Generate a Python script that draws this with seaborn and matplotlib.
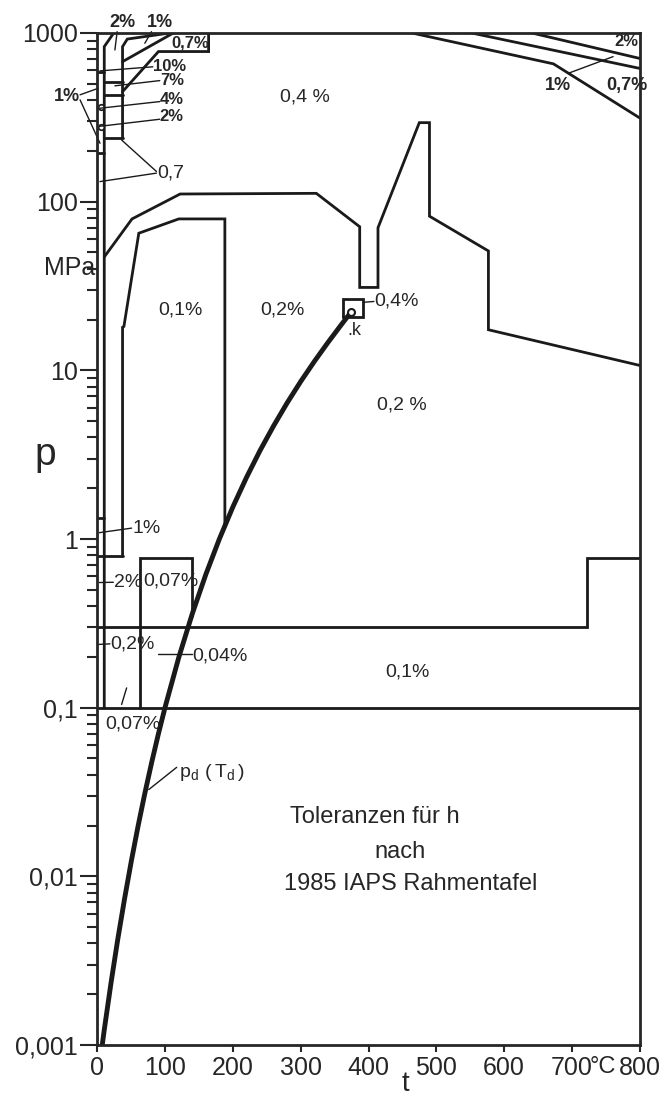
import matplotlib
matplotlib.use("Agg")
import matplotlib.pyplot as plt
import pandas as pd
import seaborn as sns
from matplotlib.ticker import LogLocator, NullFormatter

# saturation curve p_d(T_d) (steam-table values)
sat_t = [7, 10, 20, 30, 40, 50, 60, 70, 80, 90, 100, 120, 140, 160, 180,
         200, 220, 240, 260, 280, 300, 320, 340, 360, 373.9]
sat_p = [0.001, 0.00123, 0.00234, 0.00425, 0.00738, 0.01235, 0.01995, 0.0312,
         0.0474, 0.0702, 0.1014, 0.1987, 0.3615, 0.618, 1.003, 1.555, 2.32,
         3.35, 4.69, 6.42, 8.59, 11.28, 14.6, 18.67, 22.06]

# region boundaries (t in degC, p in MPa)
outer_t = [10, 51, 122, 323, 387, 387, 414, 414, 475, 490, 490, 577, 577, 800]
outer_p = [47, 79, 111, 112, 71, 31, 31, 70, 294, 294, 82, 51, 17.4, 10.7]
inner_t = [37, 37, 39, 61, 120, 188, 188]
inner_p = [0.79, 18, 18.2, 65, 79, 79, 1.19]
box007_t = [63, 63, 139, 139]
box007_p = [0.1, 0.77, 0.77, 0.35]
line03_t = [0, 722, 722, 800]
line03_p = [0.3, 0.3, 0.77, 0.77]
line01_t = [0, 800]
line01_p = [0.1, 0.1]
lineA_t = [10, 10, 24]
lineA_p = [0.1, 830, 1000]
lineB_t = [37, 37, 44, 107]
lineB_p = [238, 830, 920, 1000]
diag_t = [37, 112]
diag_p = [676, 1000]
box07_t = [37, 90, 164, 164]
box07_p = [449, 776, 776, 1000]
colAB_p = [513, 427, 238]        # steps between t=10 and t=37
colA_p = [588, 195]              # steps between t=0 and t=10
colA_low_p = [1.33]
low_step_t = [0, 37]
low_step_p = [0.79, 0.79]
dots_t = [5, 5]
dots_p = [364, 278]
r1_t = [464, 673, 800]
r1_p = [1000, 656, 314]
r2_t = [552, 800]
r2_p = [1000, 617]
r3_t = [641, 800]
r3_p = [1000, 707]
crit_t = [362, 392, 392, 362, 362]
crit_p = [20.6, 20.6, 26.5, 26.5, 20.6]

x_ticks = [0, 100, 200, 300, 400, 500, 600, 700, 800]
x_labels = ["0", "100", "200", "300", "400", "500", "600", "700", "800"]
y_ticks = [0.001, 0.01, 0.1, 1, 10, 100, 1000]
y_labels = ["0,001", "0,01", "0,1", "1", "10", "100", "1000"]

sns.set_theme(style="ticks")
plt.rcParams["font.family"] = ["Liberation Sans", "DejaVu Sans"]
plt.rcParams["axes.linewidth"] = 2.0
narrow = ["Liberation Sans Narrow", "Liberation Sans", "DejaVu Sans"]

fig = plt.figure(figsize=(6.7, 10.99), dpi=100)
ax = fig.add_axes([0.1455, 0.0491, 0.809, 0.9209])
ax.set_yscale("log")

lw = 2.0
for xs, ys in [(outer_t, outer_p), (inner_t, inner_p), (box007_t, box007_p),
               (line03_t, line03_p), (line01_t, line01_p), (lineA_t, lineA_p),
               (lineB_t, lineB_p), (diag_t, diag_p), (box07_t, box07_p),
               (low_step_t, low_step_p), (r1_t, r1_p), (r2_t, r2_p),
               (r3_t, r3_p), (crit_t, crit_p)]:
    ax.plot(xs, ys, color="k", lw=lw, solid_joinstyle="miter")
for p in colAB_p:
    ax.plot([10, 37], [p, p], color="k", lw=lw)
for p in colA_p + colA_low_p:
    ax.plot([0, 10], [p, p], color="k", lw=lw)
ax.plot(dots_t, dots_p, "o", ms=4, mfc="white", mec="k", mew=1.2)

sat = pd.DataFrame({"t": sat_t, "p": sat_p})
sns.lineplot(data=sat, x="t", y="p", ax=ax, color="k", lw=3.5, sort=False)
ax.plot([sat_t[-1]], [sat_p[-1]], "o", ms=5, mfc="white", mec="k", mew=1.5)

ax.set_xlim(0, 800)
ax.set_ylim(0.001, 1000)
ax.set_xticks(x_ticks)
ax.set_xticklabels(x_labels)
ax.set_yticks(y_ticks)
ax.set_yticklabels(y_labels)
ax.yaxis.set_minor_locator(LogLocator(base=10, subs=range(2, 10), numticks=20))
ax.yaxis.set_minor_formatter(NullFormatter())
ax.tick_params(axis="y", which="major", length=12, width=1.5, pad=2, labelsize=18)
ax.tick_params(axis="y", which="minor", length=7, width=1.5)
ax.tick_params(axis="x", which="major", length=5, width=1.5, pad=3, labelsize=18)
for lab in ax.get_xticklabels() + ax.get_yticklabels():
    lab.set_fontfamily(narrow)
ax.set_xlabel("")
ax.set_ylabel("")


def pointer(t0, p0, t1, p1):
    ax.plot([t0, t1], [p0, p1], color="k", lw=1.0, clip_on=False)


def label(t, p, s, size=14, ha="center", **kw):
    ax.text(t, p, s, fontsize=size, ha=ha, va="center", family=narrow, **kw)


# top-left fine structure
label(37.5, 1160, "2%", size=13, weight="bold")
pointer(29, 1018, 25.7, 793)
label(92, 1160, "1%", size=13, weight="bold")
pointer(79.7, 1018, 69.9, 869)
label(137, 871, "0,7%", size=12, weight="bold")
label(82, 632, "10%", size=12, ha="left", weight="bold")
pointer(3.7, 596, 81.6, 630)
label(92, 522, "7%", size=12, ha="left", weight="bold")
pointer(25.7, 486, 91.9, 522)
label(92, 406, "4%", size=12, ha="left", weight="bold")
pointer(3.7, 358, 91.9, 392)
label(92, 318, "2%", size=12, ha="left", weight="bold")
pointer(1.2, 279, 91.9, 308)
ax.text(-26, 418, "1%", fontsize=13, ha="right", va="center", family=narrow,
        weight="bold", clip_on=False)
pointer(-25.7, 430, 1.2, 470)
pointer(-25.7, 401, 3.7, 222)
label(88, 148, "0,7", ha="left")
pointer(87, 151, 35.6, 232)
pointer(87, 147.6, 3.7, 131.5)

# region labels
label(306, 417, "0,4 %")
label(123, 22.9, "0,1%")
label(273, 22.9, "0,2%")
label(449, 6.25, "0,2 %")
label(457, 0.162, "0,1%")
label(409, 25.6, "0,4%", ha="left")
pointer(392, 25.3, 408, 25.6)
label(379, 17.2, ".k", size=13)

# top-right
label(680, 490, "1%", size=13, weight="bold")
pointer(695, 577, 761, 724)
label(782, 490, "0,7%", size=13, weight="bold")
label(780, 885, "2%", size=12, weight="bold")

# lower-left
label(52, 1.16, "1%", ha="left")
pointer(2.6, 1.09, 50.3, 1.16)
label(24, 0.552, "2%", ha="left")
pointer(2.6, 0.552, 23.4, 0.554)
label(67, 0.56, "0,07%", ha="left")
label(19, 0.239, "0,2%", ha="left")
pointer(0.3, 0.237, 18.4, 0.239)
label(140, 0.203, "0,04%", ha="left")
pointer(89.4, 0.207, 139, 0.207)
label(11, 0.080, "0,07%", ha="left")
pointer(43, 0.131, 35.6, 0.1045)
label(120, 0.0413, r"$\mathregular{p_d\ (\,T_d\,)}$", ha="left")
pointer(75.7, 0.0327, 116.9, 0.0443)

# caption inside the chart
ax.text(410, 0.0224, "Toleranzen für h", fontsize=17, ha="center", va="center")
ax.text(447, 0.0139, "nach", fontsize=17, ha="center", va="center")
ax.text(462, 0.00897, "1985 IAPS Rahmentafel", fontsize=17, ha="center", va="center")

# axis annotations
fig.text(0.067, 0.586, "p", fontsize=28, ha="center", va="center", family=narrow)
fig.text(0.142, 0.756, "MPa", fontsize=18, ha="right", va="center", family=narrow)
ax.annotate("°C", xy=(727, 0), xycoords=("data", "axes fraction"),
            xytext=(0, -8), textcoords="offset points", fontsize=17,
            ha="left", va="top", family=narrow)
ax.annotate("t", xy=(455, 0), xycoords=("data", "axes fraction"),
            xytext=(0, -19), textcoords="offset points", fontsize=20,
            ha="center", va="top", family=narrow)

fig.savefig("out.png", dpi=100, facecolor="white")
